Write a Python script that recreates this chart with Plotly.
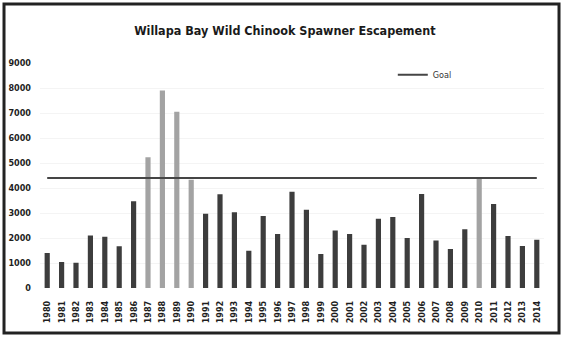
import plotly.graph_objects as go

years = [str(y) for y in range(1980, 2015)]
escapement = [1400, 1040, 1010, 2100, 2050, 1670, 3470, 5230, 7900, 7050,
              4330, 2970, 3750, 3030, 1490, 2880, 2160, 3850, 3130, 1360,
              2300, 2160, 1730, 2770, 2840, 2000, 3760, 1900, 1560, 2350,
              4400, 3360, 2080, 1680, 1930]
goal = 4400
goal_met_years = ["1987", "1988", "1989", "1990", "2010"]

bar_colors = ["#a3a3a3" if y in goal_met_years else "#3d3d3d" for y in years]

fig = go.Figure()
fig.add_trace(go.Bar(
    x=years, y=escapement, marker_color=bar_colors,
    marker_line_width=0, showlegend=False, name="Escapement",
))
fig.add_trace(go.Scatter(
    x=years, y=[goal] * len(years), mode="lines", name="Goal",
    line=dict(color="#454545", width=2),
))

narrow = "DejaVu Sans Condensed, Lato, sans-serif"
tick_font = dict(family=narrow, size=9, color="#1e1e1e", weight="bold")

fig.update_layout(
    width=563, height=339,
    margin=dict(l=40, r=19, t=63, b=51),
    paper_bgcolor="white", plot_bgcolor="white",
    bargap=0.64,
    title=dict(
        text="Willapa Bay Wild Chinook Spawner Escapement",
        x=0.506, xref="container", xanchor="center",
        y=1 - 31 / 339, yref="container", yanchor="middle",
        font=dict(family=narrow, size=12.5, color="#1a1a1a", weight="bold"),
    ),
    legend=dict(
        x=0.70, y=1.012, xanchor="left", yanchor="top",
        bgcolor="rgba(0,0,0,0)", font=dict(family=narrow, size=9, color="#333"),
        itemwidth=30,
    ),
    xaxis=dict(
        type="category", tickangle=-90, tickfont=tick_font,
        showgrid=False, showline=False, ticks="", ticklabelstandoff=10,
        range=[-0.5, len(years) - 0.5], automargin=False,
    ),
    yaxis=dict(
        range=[0, 9000], dtick=1000, tickfont=tick_font,
        showgrid=True, gridcolor="#f4f4f4", zeroline=False,
        showline=False, ticks="", ticklabelstandoff=8, automargin=False,
    ),
    shapes=[dict(
        type="rect", xref="paper", yref="paper",
        x0=-0.0714, x1=1.0298, y0=-0.2, y1=1.262,
        line=dict(color="#222", width=3),
    )],
)

fig.write_html("out.html")
